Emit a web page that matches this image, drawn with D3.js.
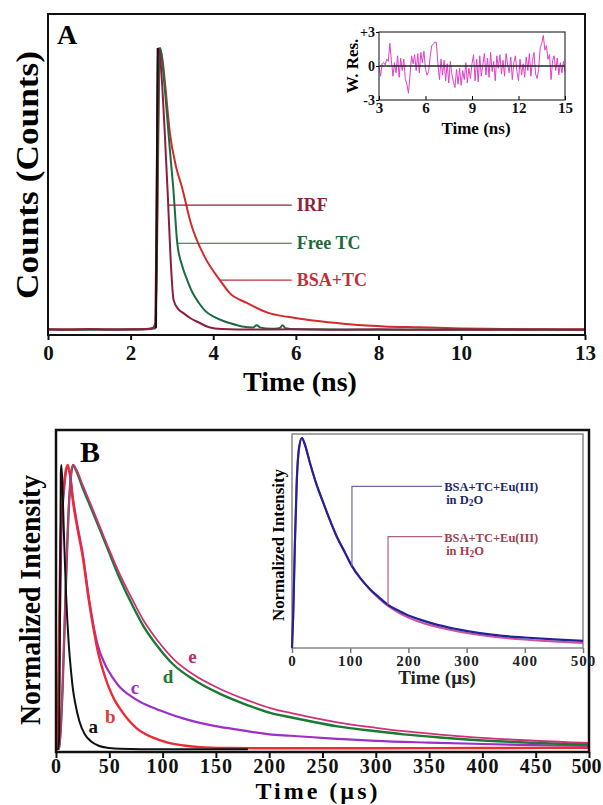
<!DOCTYPE html>
<html>
<head>
<meta charset="utf-8">
<script src="https://cdn.jsdelivr.net/npm/d3@7"></script>
<style>
  body { margin: 0; background: #fff; }
  text { font-family: "Liberation Serif", "Times New Roman", serif; font-weight: bold; }
</style>
</head>
<body>
<script>
// ---------- data: panel A (ns, normalised counts) ----------
const ticksA = [0, 2, 4, 6, 8, 10, 13];
const irfA = [[0,0.006],[0.5,0.004],[1,0.007],[1.5,0.005],[2,0.006],[2.4,0.006],[2.55,0.012],[2.6,0.03],[2.63,0.5],[2.66,0.97],[2.69,1.0],
  [2.75,0.9],[2.82,0.72],[2.9,0.48],[2.97,0.25],[3.04,0.11],[3.15,0.078],[3.27,0.064],[3.45,0.045],[3.65,0.03],[3.9,0.013],[4.2,0.007],
  [5,0.005],[6,0.006],[7,0.004],[8,0.006],[9,0.004],[10,0.005],[11,0.004],[12,0.005],[13,0.004]];
const freeTC = [[0,0.005],[1,0.004],[2,0.005],[2.6,0.01],[2.64,0.4],[2.68,0.9],[2.72,1.0],[2.78,0.93],[2.86,0.8],[2.95,0.64],[3.03,0.51],
  [3.13,0.31],[3.25,0.23],[3.37,0.18],[3.5,0.135],[3.65,0.1],[3.8,0.072],[4.02,0.05],[4.2,0.038],[4.4,0.028],[4.7,0.016],[4.96,0.012],
  [5.05,0.02],[5.15,0.012],[5.4,0.008],[5.6,0.01],[5.68,0.02],[5.75,0.01],[6,0.006],[7,0.005],[8,0.004],[9,0.005],[10,0.004],[11,0.005],[12,0.004],[13,0.004]];
const bsaTC = [[0,0.005],[1,0.006],[2,0.005],[2.6,0.01],[2.65,0.4],[2.69,0.9],[2.73,0.99],[2.78,0.95],[2.83,0.88],[2.95,0.7],[3.1,0.58],
  [3.24,0.51],[3.46,0.38],[3.8,0.26],[4.16,0.18],[4.4,0.134],[4.8,0.1],[5.33,0.064],[5.8,0.05],[6.27,0.04],[7,0.028],[7.6,0.02],
  [8.14,0.016],[9,0.013],[10,0.009],[11,0.007],[12,0.006],[13,0.006]];
const riseEdge = [[2.615,0.01],[2.655,1.0]];
// leader anchors: [time, value, end time] and labels
const leadersA = [
  {label: "IRF", t: 2.9, v: 0.445, end: 5.9, color: "#8b2535"},
  {label: "Free TC", t: 3.13, v: 0.31, end: 5.9, color: "#1d6b3a"},
  {label: "BSA+TC", t: 4.16, v: 0.18, end: 5.9, color: "#c0303a"}
];

// ---------- data: residuals inset (3..15 ns, step 0.1) ----------
const resStart = 3, resStep = 0.1;
const resA = [0.0,-0.9,0.2,0.3,0.1,0.6,0.4,2.0,0.5,-0.9,0.3,-0.6,0.9,-1.0,0.7,-0.4,0.6,-1.2,-1.6,-2.4,
  -0.8,0.9,0.2,1.0,-0.4,1.1,-0.6,1.2,0.3,1.3,-0.3,-0.8,-0.5,0.8,1.8,1.9,2.1,2.1,0.2,-1.2,
  0.6,-0.8,0.5,-1.3,0.2,-1.5,0.4,-0.7,-1.4,-1.9,-0.3,-1.6,-0.2,-1.7,-0.4,-1.2,0.3,-1.5,-0.2,-1.1,
  0.2,1.0,-1.3,0.6,-1.4,0.9,-0.9,0.1,1.1,-0.8,0.7,-1.0,1.2,-0.5,0.4,-1.3,0.9,-0.2,1.0,-0.7,
  0.5,-0.9,1.1,0.1,-0.6,0.8,-1.2,0.3,0.9,-0.5,-1.3,0.6,-0.8,0.2,-1.0,0.8,-0.4,1.1,-0.9,0.5,
  1.2,-0.7,-1.1,-0.3,1.6,2.0,2.7,1.4,1.8,0.6,1.0,-1.2,0.5,0.9,-0.4,0.7,-0.8,0.3,-0.6,0.4,-0.5];
const resTicksX = [3, 6, 9, 12, 15];
const resTicksY = [-3, 0, 3];

// ---------- data: panel B (µs, normalised intensity) ----------
const ticksB = [0,50,100,150,200,250,300,350,400,450,500];
const curveA = [[0,0.003],[2,0.003],[3,0.05],[3.8,0.5],[4.5,0.97],[5,1.0],[6,0.93],[7.5,0.75],[9.4,0.55],[12,0.37],[14,0.28],[16,0.21],
  [18,0.165],[22,0.1],[27,0.055],[33,0.03],[40,0.015],[50,0.007],[60,0.004],[80,0.003],[120,0.003],[180,0.003]];
const curveB = [[0,0.005],[1.5,0.01],[2.5,0.3],[4,0.7],[6,0.86],[8,0.95],[11,1.0],[13,0.97],[16,0.87],[20,0.78],[25,0.68],[31,0.52],
  [35,0.43],[39,0.35],[44,0.28],[49,0.225],[55,0.175],[60,0.145],[68,0.105],[76,0.075],[90,0.045],[104,0.027],[120,0.016],[135,0.01],
  [160,0.007],[200,0.006],[300,0.006],[400,0.007],[500,0.008]];
const curveC = [[0,0.004],[2,0.01],[3,0.3],[5,0.75],[8,0.93],[11,0.99],[13,0.97],[16,0.88],[20,0.79],[25,0.69],[31,0.53],[35,0.44],
  [39,0.37],[46,0.3],[53,0.255],[60,0.22],[68,0.195],[76,0.175],[90,0.15],[104,0.13],[120,0.11],[135,0.095],[155,0.08],[173,0.07],
  [200,0.055],[220,0.05],[260,0.04],[300,0.032],[350,0.026],[400,0.021],[450,0.017],[500,0.014]];
const curveD = [[0,0.003],[3,0.005],[6,0.2],[9,0.55],[12,0.85],[14,0.96],[16,1.0],[19,0.98],[25,0.92],[35,0.83],[48,0.71],[60,0.6],
  [72,0.505],[82,0.435],[95,0.365],[110,0.3],[130,0.245],[154,0.197],[180,0.157],[201,0.13],[220,0.115],[264,0.083],[300,0.066],
  [326,0.055],[360,0.044],[389,0.036],[430,0.028],[483,0.021],[500,0.02]];
const curveE = [[0,0.003],[3,0.005],[6,0.2],[9,0.55],[12,0.85],[14,0.96],[16,1.0],[19,0.985],[25,0.93],[35,0.84],[48,0.72],[60,0.615],
  [72,0.525],[82,0.455],[95,0.385],[110,0.32],[130,0.262],[154,0.214],[180,0.174],[201,0.147],[220,0.13],[264,0.097],[300,0.078],
  [326,0.066],[360,0.054],[389,0.045],[430,0.036],[483,0.027],[500,0.025]];
const labelsB = [
  {label: "a", t: 35, v: 0.058, color: "#111"},
  {label: "b", t: 51, v: 0.095, color: "#e03a3a"},
  {label: "c", t: 74, v: 0.195, color: "#9a30c8"},
  {label: "d", t: 105, v: 0.235, color: "#1a7a30"},
  {label: "e", t: 128, v: 0.305, color: "#c02a6a"}
];

// ---------- data: panel B inset ----------
const ticksInB = [0,100,200,300,400,500];
const insetD2O = [[0,0],[2,0.15],[5,0.5],[8,0.78],[12,0.95],[17,1.0],[22,0.97],[31,0.88],[42,0.78],[54,0.69],[65,0.61],[77,0.53],
  [90,0.46],[103,0.39],[118,0.33],[134,0.28],[150,0.24],[165,0.205],[185,0.175],[200,0.155],[220,0.135],[250,0.11],[283,0.09],
  [320,0.072],[362,0.058],[400,0.05],[450,0.041],[500,0.034]];
const insetH2O = [[0,0],[2,0.15],[5,0.5],[8,0.78],[12,0.95],[17,1.0],[22,0.97],[31,0.88],[42,0.78],[54,0.69],[65,0.61],[77,0.53],
  [90,0.46],[103,0.39],[118,0.33],[134,0.278],[150,0.235],[165,0.2],[185,0.165],[200,0.145],[220,0.124],[250,0.1],[283,0.08],
  [320,0.063],[362,0.049],[400,0.04],[450,0.031],[500,0.024]];
const leadersB = [
  {t: 103, v: 0.39, level: 0.77, end: 258, color: "#6a6aa8", text: "#22286a", sub: "D"},
  {t: 165, v: 0.205, level: 0.53, end: 258, color: "#b06080", text: "#a04050", sub: "H"}
];

const svg = d3.select("body").append("svg")
    .attr("width", 603)
    .attr("height", 805);

function drawLine(g, data, x, y, color, width, curve) {
  g.append("path")
    .datum(data)
    .attr("fill", "none")
    .attr("stroke", color)
    .attr("stroke-width", width)
    .attr("stroke-linejoin", "round")
    .attr("d", d3.line().x(d => x(d[0])).y(d => y(d[1])).curve(curve || d3.curveMonotoneX));
}

// ================= PANEL A =================
const xA = d3.scaleLinear([0, 13], [48, 585]);
const yA = d3.scaleLinear([0, 1], [331, 48]);
const gA = svg.append("g");

drawLine(gA, bsaTC, xA, yA, "#d42a2a", 2);
drawLine(gA, freeTC, xA, yA, "#1d6b40", 2);
drawLine(gA, irfA, xA, yA, "#8a1f3f", 2);
drawLine(gA, riseEdge, xA, yA, "#111", 2, d3.curveLinear);

leadersA.forEach(l => {
  gA.append("line")
    .attr("x1", xA(l.t)).attr("x2", xA(l.end))
    .attr("y1", yA(l.v)).attr("y2", yA(l.v))
    .attr("stroke", l.color).attr("stroke-width", 1.2);
  gA.append("text")
    .attr("x", xA(l.end) + 5).attr("y", yA(l.v) + 6)
    .attr("fill", l.color).attr("font-size", 18)
    .text(l.label);
});

gA.append("rect").attr("x", 48).attr("y", 14).attr("width", 537).attr("height", 321)
  .attr("fill", "none").attr("stroke", "#111").attr("stroke-width", 2);

const axA = gA.append("g").attr("transform", "translate(0,335)")
  .call(d3.axisBottom(xA).tickValues(ticksA).tickSize(5).tickPadding(5));
axA.select(".domain").remove();
axA.selectAll("line").attr("stroke", "#111").attr("stroke-width", 2);
axA.selectAll("text").attr("font-size", 21).attr("font-family", null).attr("fill", "#111");

gA.append("text").attr("x", 57).attr("y", 44).attr("font-size", 28).text("A");
gA.append("text").attr("x", 300).attr("y", 391).attr("text-anchor", "middle")
  .attr("font-size", 28).text("Time (ns)");
gA.append("text").attr("transform", "translate(38,175) rotate(-90)").attr("text-anchor", "middle")
  .attr("font-size", 31).attr("textLength", 248).attr("lengthAdjust", "spacingAndGlyphs")
  .text("Counts (Counts)");

// ---------- inset A: weighted residuals ----------
const xR = d3.scaleLinear([3, 15], [379, 565]);
const yR = d3.scaleLinear([-3, 3], [100, 32]);
const gR = svg.append("g");
const resPts = resA.map((v, i) => [resStart + i * resStep, v]);
drawLine(gR, resPts, xR, yR, "#e040c8", 1, d3.curveLinear);
gR.append("line").attr("x1", 379).attr("x2", 565).attr("y1", yR(0)).attr("y2", yR(0))
  .attr("stroke", "#222").attr("stroke-width", 1.3);
gR.append("rect").attr("x", 379).attr("y", 32).attr("width", 186).attr("height", 68)
  .attr("fill", "none").attr("stroke", "#333").attr("stroke-width", 1.2);
const axRx = gR.append("g").attr("transform", "translate(0,100)")
  .call(d3.axisBottom(xR).tickValues(resTicksX).tickSizeInner(-4).tickSizeOuter(0).tickPadding(2));
axRx.select(".domain").remove();
axRx.selectAll("text").attr("font-size", 15).attr("font-family", null).attr("fill", "#111");
const axRy = gR.append("g").attr("transform", "translate(379,0)")
  .call(d3.axisLeft(yR).tickValues(resTicksY).tickSize(3).tickPadding(1)
    .tickFormat(d => d > 0 ? "+" + d : d < 0 ? "-" + Math.abs(d) : "0"));
axRy.select(".domain").remove();
axRy.selectAll("text").attr("font-size", 14).attr("font-family", null).attr("fill", "#111");
gR.append("text").attr("x", 476).attr("y", 134).attr("text-anchor", "middle")
  .attr("font-size", 17).text("Time (ns)");
gR.append("text").attr("transform", "translate(358,66) rotate(-90)").attr("text-anchor", "middle")
  .attr("font-size", 17).text("W. Res.");

// ================= PANEL B =================
const xB = d3.scaleLinear([0, 500], [56, 589]);
const yB = d3.scaleLinear([0, 1], [750, 465]);
const gB = svg.append("g");

drawLine(gB, curveC, xB, yB, "#9a30c8", 2.2);
drawLine(gB, curveB, xB, yB, "#ee2a35", 2.4);
drawLine(gB, curveD, xB, yB, "#1a7a30", 2.4);
drawLine(gB, curveE, xB, yB, "#d0307a", 1.8);
drawLine(gB, curveA, xB, yB, "#111", 2);

labelsB.forEach(l => {
  gB.append("text").attr("x", xB(l.t)).attr("y", yB(l.v))
    .attr("text-anchor", "middle").attr("fill", l.color).attr("font-size", 19).text(l.label);
});

gB.append("rect").attr("x", 56).attr("y", 430).attr("width", 533).attr("height", 322)
  .attr("fill", "none").attr("stroke", "#111").attr("stroke-width", 2.5);

const axB = gB.append("g").attr("transform", "translate(0,752)")
  .call(d3.axisBottom(xB).tickValues(ticksB).tickSize(6).tickPadding(1));
axB.select(".domain").remove();
axB.selectAll("line").attr("stroke", "#111").attr("stroke-width", 2);
axB.selectAll("text").attr("font-size", 20).attr("font-family", null).attr("fill", "#111")
  .attr("letter-spacing", 1);
axB.selectAll(".tick:last-of-type text").attr("letter-spacing", 0).attr("dx", -3);

gB.append("text").attr("x", 80).attr("y", 462).attr("font-size", 30).text("B");
gB.append("text").attr("x", 318).attr("y", 799).attr("text-anchor", "middle")
  .attr("font-size", 24).attr("letter-spacing", 3).text("Time (µs)");
gB.append("text").attr("transform", "translate(40,600) rotate(-90)").attr("text-anchor", "middle")
  .attr("font-size", 30).attr("textLength", 250).attr("lengthAdjust", "spacingAndGlyphs")
  .text("Normalized Intensity");

// ---------- inset B ----------
const xI = d3.scaleLinear([0, 500], [292, 583]);
const yI = d3.scaleLinear([0, 1], [648, 438]);
const gI = svg.append("g");
gI.append("rect").attr("x", 292).attr("y", 434).attr("width", 291).attr("height", 214)
  .attr("fill", "#fff").attr("stroke", "#888").attr("stroke-width", 1.5);
drawLine(gI, insetH2O, xI, yI, "#d050a0", 2);
drawLine(gI, insetD2O, xI, yI, "#22229a", 2.2);

leadersB.forEach(l => {
  gI.append("path")
    .attr("d", `M${xI(l.t)},${yI(l.v)}V${yI(l.level)}H${xI(l.end)}`)
    .attr("fill", "none").attr("stroke", l.color).attr("stroke-width", 1.2);
  gI.append("text").attr("x", xI(l.end) + 2).attr("y", yI(l.level) + 5)
    .attr("fill", l.text).attr("font-size", 12.5)
    .text("BSA+TC+Eu(III)");
  const t2 = gI.append("text").attr("x", xI(l.end) + 4).attr("y", yI(l.level) + 18)
    .attr("fill", l.text).attr("font-size", 12.5);
  t2.append("tspan").text("in " + l.sub);
  t2.append("tspan").attr("font-size", 9.5).attr("dy", 2).text("2");
  t2.append("tspan").attr("dy", -2).text("O");
});

const axI = gI.append("g").attr("transform", "translate(0,648)")
  .call(d3.axisBottom(xI).tickValues(ticksInB).tickSize(5).tickPadding(2));
axI.select(".domain").remove();
axI.selectAll("line").attr("stroke", "#777").attr("stroke-width", 1.5);
axI.selectAll("text").attr("font-size", 15).attr("font-family", null).attr("fill", "#222")
  .attr("letter-spacing", 1);
gI.append("text").attr("x", 437).attr("y", 684).attr("text-anchor", "middle")
  .attr("font-size", 19).attr("fill", "#222").text("Time (µs)");
gI.append("text").attr("transform", "translate(284,545) rotate(-90)").attr("text-anchor", "middle")
  .attr("font-size", 16).attr("font-weight", "normal").attr("textLength", 152)
  .attr("lengthAdjust", "spacingAndGlyphs").text("Normalized Intensity");
</script>
</body>
</html>
